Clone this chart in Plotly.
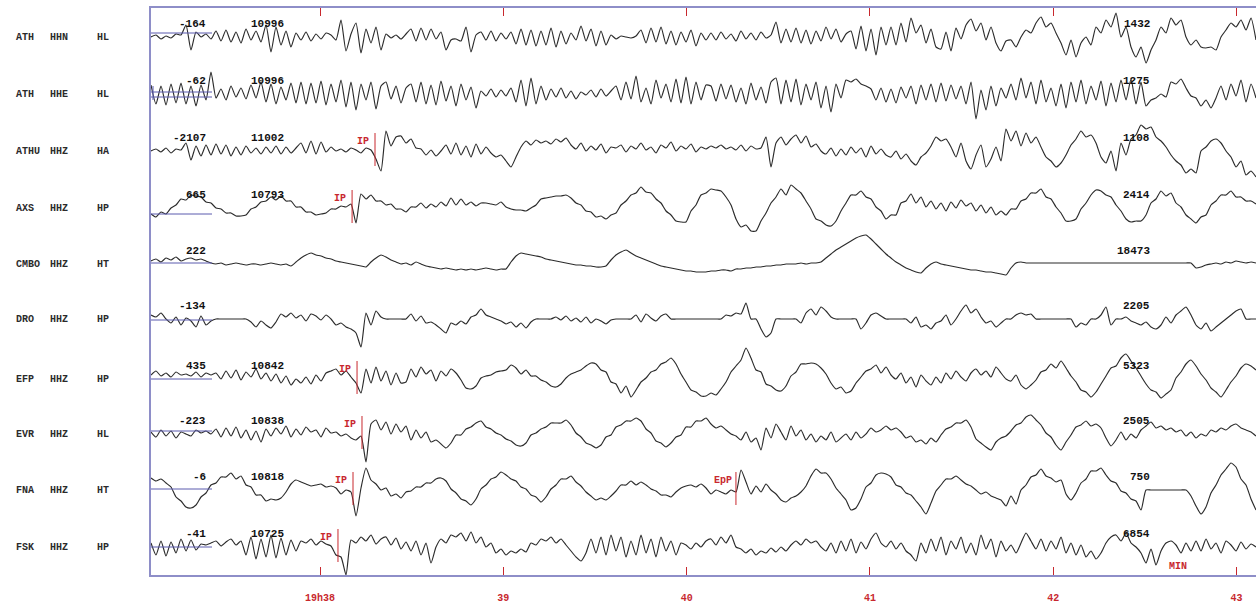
import numpy as np
import plotly.graph_objects as go

# ---- station list -------------------------------------------------------
STATIONS = ["ATH", "ATH", "ATHU", "AXS", "CMBO", "DRO", "EFP", "EVR", "FNA", "FSK"]
CHANNELS = ["HHN", "HHE", "HHZ", "HHZ", "HHZ", "HHZ", "HHZ", "HHZ", "HHZ", "HHZ"]
NETWORKS = ["HL", "HL", "HA", "HP", "HT", "HP", "HP", "HL", "HT", "HP"]
OFFSET_VALUES = ["-164", "-62", "-2107", "665", "222", "-134", "435", "-223", "-6", "-41"]
GAIN_VALUES = ["10996", "10996", "11002", "10793", "", "", "10842", "10838", "10818", "10725"]
PEAK_VALUES = ["1432", "1275", "1108", "2414", "18473", "2205", "5323", "2505", "750", "6854"]

# ---- time axis (minutes after 19h00) ----------------------------------
T_START = 37.078
T_END = 43.106
MINUTE_TICKS = [38, 39, 40, 41, 42, 43]
MINUTE_LABELS = ["19h38", "39", "40", "41", "42", "43"]

# ---- traces (amplitude, up positive) -------------------------------------
ATH_HHN = [0, 2, -2, 1, -1, 3, 2, 12, -13, 5, 0, 3, -2, 6, -4, 7, -5, 5, -6, 8, -3, 6, -5,
           12, -15, 10, -8, 6, -10, 4, -3, 5, -4, 3, -2, 4, 2, -3, 17, -14, 3, 14, -16,
           8, -6, 10, -13, 3, -1, 2, -2, 3, 8, -4, 9, -3, 8, -2, 5, -13, -3, -2, -4,
           10, -15, 2, 5, -3, 6, -4, 4, -2, 5, -7, 8, -8, 7, -9, 6, -8, 9, -10, 6, -7, 4, -3, 11,
           -4, 8, -9, 6, -8, 2, -2, 1, 0, -1, 1, 7, -6, 9, -5, 10, -7, 6, -8, 5, -5, 7, -9, 4, -3,
           4, -3, 5, -2, 3, -4, 6, -2, 4, -3, 5, -1, 2, 15, -6, 8, -5, 9, -6, 7, -7, 6, -4, 10, -2, 8, -5, 3,
           6, -12, 11, -14, 8, -18, 10, -8, 10, -8, 14, -5, 19, 4, 12, -6, 8, -10, -12, 5, -14, 9, -2, 12,
           18, 6, 14, -3, 10, -6, -14, -4, -3, -10, 0, 7, 4, 14, 20, 10, 14, 4, -6, -18, -3, -20, -6, 0,
           -8, 10, 4, 17, 10, 24, 0, 10, -10, -20, -10, -26, -13, -3, 10, 4, 19, 12, 17, 0, -8, -3, -10,
           -11, -10, -13, 0, 7, 14, 10, 17, 7, 19, -3]
ATH_HHE = [9, -10, 8, -11, 10, -9, 11, -10, 8, -12, 9, -6, 22, -4, 5, -6, 8, -3, 6, -5, 9, -4,
           12, -8, 10, -10, 7, -6, 11, -9, 12, -10, 11, -9, 13, -11, 10, -8, 14, -13, 12, -16, 10, -6, 12, -15, 8,
           12, -5, 8, -9, 6, 10, -8, 12, -10, 9, -11, 13, -7, 8, -12, 10, -6, 7, -14, 3, -2, 5, -3, 4, -2, 6,
           -8, 14, -12, 16, -10, 8, -6, 5, -3, 6, -4, 3, -5, 2, -1, 4, -3, 5, -2, 3,
           8, -6, 12, -5, 18, -8, 6, -10, 14, -4, 10, -8, 15, -9, 17, -10, 12, -6, 9,
           8, -7, 10, -5, 9, -8, 6, -10, 11, -6, 7, -9, 12, 16, -10, 14, -8, 15, -11, 10, -6, 12, -14, 8, -18, 10, -4,
           14, 12, 15, 10, 8, 5, -6, 6, -8, 5, -9, 7, -4, 8, -10, 9, -6, 10, -8, 11, -7, 9, -5, 8,
           -10, 12, -25, 4, -16, 8, -12, 6, -4, 10, -6, 16, -4, 12, -10, 14, -8, 6, -12, 10, -14,
           12, -8, 14, -10, 8, -6, 13, -12, 11, -8, 14, -6, 15, -10, 12, -12, -6, -4, 0, -3, 12, 10, 15,
           6, -2, -4, -12, -6, -14, -4, 8, -6, 10, -2, 14, -8, 10, -4]
ATHU_HHZ = [0, 2, -1, 3, -2, 2, 1, 8, -9, 5, -5, 6, -4, 7, -3, 6, -5, 4, -4, 5, -2, 3, -3, 4, -2, 5, -3, 4, -2, 3,
            8, -2, 10, -3, 9, -1, 4, 0, 2, -1, 3, 1, -2, 3, 1, -8, -20, 20, 5, 14,
            15, 8, 12, 3, 2, -4, 1, -5, 0, 6, -3, 8, -4, 5, -6, 7, -3, 4, -2, -6, -4, -10, -16, -6,
            4, 10, 6, 11, 8, 10, 7, 12, 9, 13, 6, 2, 8, 0, 5, 1, 7, -2, 4, 3, 6, -1, 5, 2, 8, 1, 4, -2, 6, 3, 9, 0, 5, 2, 7, -1, 4, 2,
            5, 3, 6, 2, 4, 1, 6, 0, 5, 2, 3, 14, -16, 8, 14, 6, 12, 16, 8, 15, 4, 7,
            0, -3, 3, -5, 2, -4, 4, -2, 3, -6, 5, -3, 2, -4, -6, 0, -8, -3, -10, -14, -6, -2, 5,
            14, 10, 12, 4, -6, 8, -10, -18, -4, 6, -16, -8, 4, -10, 22,
            10, 20, 5, 18, 8, 14, 4, -6, -10, -16, -12, -4, 6, 12, 20, 14, 16, 8, -6, -12, 0, -20,
            8, -4, 12, 16, 26, 22, 24, 14, 10, 4, -4, -10, -14, -22, -18, -22, 0, 4, 10, 12, 8,
            0, -6, -16, -10, -24, -20, -26]
AXS_HHZ = [-6, -9, -4, -6, 0, 3, 9, 8, 13, 12, 11, 6, 5, 0, -1, -5, -5, -8, -8, -7, -1, 1, 6, 7, 11, 8, 12,
           7, 7, 1, 1, -4, -4, -7, -6, -5, -1, -1, 2, 1, 4, -15, 14, 9, 13, 7, 7, 3, 4, -1, -1, -4,
           1, 1, 5, 0, 4, 1, 6, 2, 10, 3, 9, 3, 6, 2, 5, 5, 4, 3, 6, 1, -1, -2, -2, -3, 0,
           3, 9, 10, 11, 12, 12, 13, 10, 5, 3, -3, -4, -9, -8, -11, -7, -5, 3, 7, 13, 15, 21, 16,
           15, 9, 5, -3, -7, -13, -14, -14, -3, 3, 13, 15, 19, 18, 17, 11, 3, -11, -19, -17, -23, -23,
           -13, -5, 5, 11, 19, 13, 23, 19, 15, 7, -1, -11, -13, -17, -18, -13, -3, 5, 13, 13, 17, 11,
           9, 1, -3, -11, -7, -7, 5, 7, 14, 5, 11, 1, 7, -1, 5, -3, 6, 0, 8, 2, 5, -3, 3, -5, 1, -7, -3, -7,
           -1, -1, 7, 9, 15, 15, 19, 11, 9, 1, -5, -13, -13, -11, -1, 5, 13, 18, 17,
           13, 11, 3, -3, -11, -14, -13, -13, -7, 5, 9, 17, 12, 15, 5, 1, -7, -11, -15, -9, -7, 3,
           7, 13, 13, 17, 11, 11, 7, 7, 4]
CMBO_HHZ = [3, 5, 2, 6, 4, 7, 3, 5, 6, 4, 5, 3, 1, 0, 1, -1, 0, 1, 0, -1, 0, 0, -1, 0, 1, 0, -1, 0, -2,
            2, 6, 9, 11, 9, 8, 6, 5, 3, 2, 1, 0, -1, -2, -3, 2, 6, 9, 7, 4, 2, 0, 1, -1, 2, 0, -2, -3,
            -4, -5, -4, -5, -6, -5, -6, -5, -6, -5, -4, -5, -6, -5, -5, 2, 8, 11,
            10, 9, 8, 7, 5, 4, 3, 2, 1, 0, -1, -1, -2, -2, -3, -3, -2, 4, 9, 12, 14,
            11, 8, 6, 4, 2, 0, -2, -3, -4, -5, -6, -7, -7, -8, -8, -8,
            -7, -7, -6, -6, -7, -5, -5, -4, -4, -3, -3, -2, -2, -1, -1, 0, 0, 0, 1, 0, 1, 1, 2,
            6, 10, 14, 17, 20, 23, 26, 28, 29, 25, 20, 15, 10, 6, 2, -1, -4, -6, -8, -9, -4, 0, 2,
            0, -1, -2, -3, -4, -5, -6, -6, -7, -8, -8, -9, -10, -11, -4, 1, 2, 1, 1,
            1, 1, 1, 1, 1, 1, 1, 1, 1, 1, 1, 1, 1, 1, 1, 1, 1, 1, 1, 1, 1, 1, 1, 1, 1, 1, 1, 1, 1, 1, 1, 1,
            -4, -3, -1, 0, 1, 0, 2, 1, 3, 2, 1, 2, 1]
DRO_HHZ = [4, 2, 6, 0, -4, 2, -6, 1, -2, -8, 3, -6, -2, 0, 0, 0, 0, 0, 0, 0, -3, -8, -2, -6, -9, -3,
           5, 2, 6, 1, 4, -2, 5, 3, -1, 4, 0, -6, -4, -8, -10, -14, -28, 6, -6, 8, 2, 0, 0, 0, 0, 0,
           5, -2, 3, -4, -3, -6, -10, -14, -4, -6, -2, -5, 2, 4, 10, 4, 2, 0, -2, -5, -3, -8, -4, -9, -3,
           0, 0, 0, 0, 2, -1, 3, -2, 1, -3, 2, -4, 0, -2, -5, -1, 0, 0, 0, 0, 4, -3, 5, 1, -2, 3, 5,
           0, 0, 0, 0, 0, 0, 0, 0, 0, 0, 0, 4, 3, 6, 5, 16, 0, 0, -10, -18, -14, 0, 0, 0, 0, 0, -4,
           6, 10, 4, 12, 8, 2, 0, 0, 0, 0, 0, -10, -4, 4, 6, 3, 0, 0, 0, 0, 0,
           -4, 2, -8, -6, -10, -4, -2, 4, -6, 0, 8, 14, 6, 10, 2, -4, -2, -8, -4, 0,
           0, 4, 6, 4, 5, 0, 0, 0, 0, 0, 0, 0, 0, -8, -4, -6, 0, 0, 4, 12, -6, 0, 0, 2,
           -2, -4, -6, -3, -8, -10, -6, 2, -4, 4, 8, 12, 4, -6, -10, -4, -12, -8, -4, 0, 4, 8, 10, 0, 0, 0]
EFP_HHZ = [4, 8, 3, 6, 2, 7, 4, 5, 3, 7, 2, 6, 4, 6, 0, 8, 1, 9, -1, 7, 2, 10, 0, 6, -2, 5, -4, 3, -6, 0, -4, 2, -5, 4, -2, 6, 8,
           10, 4, 8, 2, -4, -14, 10, -4, 12, -2, 8, -6, 6, -4, -3, 10, 2, 12, 5, 9, -2, 8, 3, 10, 6,
           -1, -9, -10, -7, 1, 3, 4, 7, 8, 9, 14, 11, 5, 9, 3, 3, -1, -3, -7, -8, -5, 1, 5, 7, 9, 13, 16,
           15, 9, 7, -3, -5, -14, -7, -18, -11, -3, 1, 7, 9, 15, 17, 21, 15, 5, -3, -11, -13, -17, -17,
           -14, -16, -10, -3, 7, 13, 19, 31, 21, 9, 7, -5, -7, -11, -12, -7, 3, 7, 15, 15, 16, 15, 11, 5,
           -4, -10, -8, -14, -12, -4, 2, 8, 10, 14, 6, 12, 4, 0, 6, -4, 2, -8, 4, -2, -6,
           2, -4, 6, 0, 8, 2, -2, 6, 10, 4, 8, 2, 12, 6, 0, -2, 4, -6, -10, -6, -1, 7, 9, 15, 11, 18,
           11, 3, -3, -11, -13, -18, -13, -5, 3, 11, 13, 21, 25, 18, 11, 3, -5, -11, -13, -19, -15,
           -11, 1, 7, 15, 19, 13, 5, -1, -9, -13, -18, -11, -3, 3, 11, 15, 13, 9]
EVR_HHZ = [2, -3, 4, -2, 3, -4, 2, 0, -2, 4, 1, 3, 0, 5, -3, 6, -2, 7, -4, 4, -6, 3, -8, 5, -2, 6, 0, 8, -3, 5, -1, 7, 2, 4, -3, 6, 1,
           2, -2, 0, -4, -6, -2, -28, 10, 14, 4, 12, 0, 10, 2, 8, -6, 4, -4, 2, -8, -6, -10, -14,
           -9, -1, -1, 5, 7, 11, 13, 7, 5, 1, -1, -5, -7, -11, -12, -9, -1, 1, 5, 7, 11, 11, 11, 14,
           9, 1, -3, -9, -11, -14, -11, -3, -1, 7, 9, 13, 13, 16, 13, 5, 1, -7, -9, -13, -9, -3, -1, 7, 7, 13, 13, 16,
           10, 6, 8, 4, 0, -2, -6, 2, -8, -4, -16, 6, -4, 10, 2, -6, 8, -2, 4,
           -6, 0, -8, -2, -6, 2, -8, -4, 0, -6, 2, -4, 0, 6, 2, 4, 8, 4, 6, 2, -4, -2, -8, -6, -10, -4, -8,
           -1, 5, 7, 11, 11, 14, 7, -5, -9, -13, -16, -8, -4, -2, 3, 9, 11, 17, 19, 14, 9, 1, -3, -11, -16, -8,
           -1, 7, 9, 13, 8, 10, 6, -4, -12, -6, 2, -6, 0, -4, 4, 8, 12,
           6, 8, 4, 6, 2, 4, -2, 2, -4, 0, -2, 4, 2, 6, 4, 8, 10, 6, 4, 2, -2]
FNA_HHZ = [12, 9, 11, 7, 3, -7, -11, -17, -18, -15, -7, -3, 5, 7, 13, 13, 17, 11, 14, 5, 3, -5, -5, -11, -9,
           -10, -8, -2, 6, 10, 8, 6, 4, 5, 6, 3, 4, 2, -4, 0, -2, -26, 2, 22, 10, 6, 0, 2, -6, -4, -8, -2,
           -1, 3, 3, 7, 7, 11, 12, 9, 1, -3, -9, -11, -15, -9, 1, 5, 11, 13, 18, 15, 11, 9, 3, 1, -5, -7, -12,
           -7, 1, 5, 11, 11, 14, 8, 4, -2, -6, -10, -8, -10, -6, -1, 5, 5, 9, 5, 8, 5, 1, -1, -5, -5, -7,
           -2, 2, 4, 5, 3, 6, 2, -4, 0, -2, -4, 0, -2, 20, 8, -4, 4, -2, 6, 0, -4, -10, -12, -8,
           -6, -2, 4, 14, 21, 17, 17, 11, 2, -4, -10, -20, -18, -9, 3, 7, 15, 17, 16,
           13, 5, 3, -3, -5, -11, -17, -24, -13, -1, 5, 11, 11, 14, 10, 6, 4, 0, -4, -2, -6, -8, -10, -16,
           -6, -14, 0, 5, 13, 15, 21, 14, 12, 8, 10, -4, -10, -3, 7, 11, 19, 19, 22,
           15, 9, 7, -1, -3, -9, -11, -20, 0, 0, 0, 0, 0, 0, 0, 0, 0, -6, -16, -24,
           -17, -3, 5, 15, 21, 27, 23, 11, 5, -9, -20]
FSK_HHZ = [4, -8, 6, -9, 5, -6, 8, -4, 7, -3, 3, 2, 4, 6, 1, 5, 8, 2, 6, -8, 10, -12, 8, -10, 12, -11, 9, -8, 7, -4, 6,
           4, 8, 2, 6, 3, 1, -8, -10, -28, 7, 4, 10, 6, 12, 3, 8, 10, 2, 9, -2, 5, -4, 6, -8, 4, -16, 0,
           8, 4, 12, 10, 14, 6, 15, 4, 10, 0, 4, -6, -2, -8, -4, -6, -2, -5, 4, 2, 8, 6, 10, 4, 8, 2,
           -4, -10, -14, -6, 8, -6, 10, -8, 12, -4, 10, -10, 6, -8, 12, -6, 8, -10, 10, -4, 6, -8, 4,
           2, -2, 4, 0, 6, 8, 2, 10, 4, 12, 0, -2, -6, -2, -8, -4, -6, -1, -5, 0, -4, 2,
           6, 2, 8, 4, 6, 0, -4, 4, -6, 6, -4, 8, -6, 5, -2, 8, 14, 4, 0, 6, -2, 4, -4, -8, -14,
           4, -6, 8, -4, 10, -8, 6, -2, 10, -6, 4, -8, 12, -2, 8, -10, 6, -4,
           2, -6, 4, 14, 6, -2, 8, -4, 6, -2, 10, -6, 4, -8, 2, -10, -4, -12, -6, 4, 10, 12, 6, 14, 4,
           0, -6, -16, -2, -18, -4, 4, 6, 2, -6, 4, -4, 6, -4, 8, -2, 4, -6, 6, 2, -4, 5, -2, 3, 0]

TRACES = [ATH_HHN, ATH_HHE, ATHU_HHZ, AXS_HHZ, CMBO_HHZ, DRO_HHZ, EFP_HHZ, EVR_HHZ, FNA_HHZ, FSK_HHZ]

# ---- phase picks --------------------------------------------------------
PICK_TRACE = [2, 3, 6, 7, 8, 8, 9]
PICK_PHASE = ["IP", "IP", "IP", "IP", "IP", "EpP", "IP"]
PICK_MINUTE = [38.300, 38.175, 38.202, 38.229, 38.180, 40.269, 38.098]

# ---- page geometry ------------------------------------------------------
W, H = 1256, 605
PLOT_L, PLOT_T, PLOT_B = 151, 8, 575
ROWS = [37, 94, 151, 208, 264, 319, 379, 434, 490, 547]       # trace rows
ZERO_LINES = [[33], [92, 97], [], [214], [263], [320], [379], [431], [489], [547]]

FRAME = "#8e8ec8"
ZERO_BLUE = "#5a5aae"
RED = "#c8282e"
INK = "#2b2b2b"
MONO = "Liberation Mono"


def paper_x(px):
    return (px - PLOT_L) / (W - PLOT_L)


fig = go.Figure()

for vals, row in zip(TRACES, ROWS):
    v = np.asarray(vals, dtype=float)
    t = np.linspace(T_START, T_END, len(v))
    fig.add_trace(go.Scatter(x=t, y=row - v, mode="lines",
                             line=dict(color=INK, width=1.15, shape="spline", smoothing=0.55),
                             hoverinfo="skip", showlegend=False))

shapes = []
annotations = []

# zero-reference marks at the start of each trace
for i, levels in enumerate(ZERO_LINES):
    for lv in levels:
        shapes.append(dict(type="line", xref="paper", yref="y",
                           x0=0, x1=paper_x(212), y0=lv, y1=lv,
                           line=dict(color=ZERO_BLUE, width=1)))
shapes.append(dict(type="line", xref="paper", yref="y", x0=paper_x(153), x1=paper_x(153),
                   y0=86, y1=100, line=dict(color=ZERO_BLUE, width=1)))

# phase picks
for ti, ph, tm in zip(PICK_TRACE, PICK_PHASE, PICK_MINUTE):
    row = ROWS[ti]
    shapes.append(dict(type="line", xref="x", yref="y", x0=tm, x1=tm,
                       y0=row - 18, y1=row + 15, line=dict(color=RED, width=1)))
    annotations.append(dict(x=tm, y=row - 10, xref="x", yref="y", text="<b>%s</b>" % ph,
                            showarrow=False, xanchor="right", yanchor="middle",
                            xshift=-2 if ph == "EpP" else -4,
                            font=dict(family=MONO, size=10, color=RED)))

# station labels and trace numbers
for i, row in enumerate(ROWS):
    for txt, px in ((STATIONS[i], 14), (CHANNELS[i], 48), (NETWORKS[i], 95)):
        annotations.append(dict(x=paper_x(px), y=row, xref="paper", yref="y",
                                text="<b>%s</b>" % txt, showarrow=False,
                                xanchor="left", yanchor="middle",
                                font=dict(family=MONO, size=10, color=INK)))
    annotations.append(dict(x=paper_x(208), y=row - 13, xref="paper", yref="y",
                            text="<b>%s</b>" % OFFSET_VALUES[i], showarrow=False,
                            xanchor="right", yanchor="middle",
                            font=dict(family=MONO, size=11, color="#111111")))
    if GAIN_VALUES[i]:
        annotations.append(dict(x=paper_x(249), y=row - 13, xref="paper", yref="y",
                                text="<b>%s</b>" % GAIN_VALUES[i], showarrow=False,
                                xanchor="left", yanchor="middle",
                                font=dict(family=MONO, size=11, color="#111111")))
    annotations.append(dict(x=paper_x(1152), y=row - 13, xref="paper", yref="y",
                            text="<b>%s</b>" % PEAK_VALUES[i], showarrow=False,
                            xanchor="right", yanchor="middle",
                            font=dict(family=MONO, size=11, color="#111111")))

annotations.append(dict(x=paper_x(1178), y=566, xref="paper", yref="y", text="<b>MIN</b>",
                        showarrow=False, xanchor="center", yanchor="middle",
                        font=dict(family=MONO, size=10, color=RED)))

fig.update_layout(
    width=W, height=H,
    margin=dict(l=PLOT_L, r=0, t=PLOT_T, b=H - PLOT_B),
    paper_bgcolor="white", plot_bgcolor="white",
    shapes=shapes, annotations=annotations,
    xaxis=dict(range=[T_START, T_END], tickvals=MINUTE_TICKS, ticktext=MINUTE_LABELS,
               ticks="inside", ticklen=8, tickwidth=1, tickcolor=RED,
               showline=True, linecolor=FRAME, linewidth=1.5, mirror="ticks",
               showgrid=False, zeroline=False, ticklabelstandoff=12,
               tickfont=dict(family=MONO, size=10, color=RED, weight="bold")),
    yaxis=dict(range=[PLOT_B, PLOT_T], showline=True, linecolor=FRAME, linewidth=1.5,
               showticklabels=False, ticks="", showgrid=False, zeroline=False),
)

fig.write_html("out.html")
